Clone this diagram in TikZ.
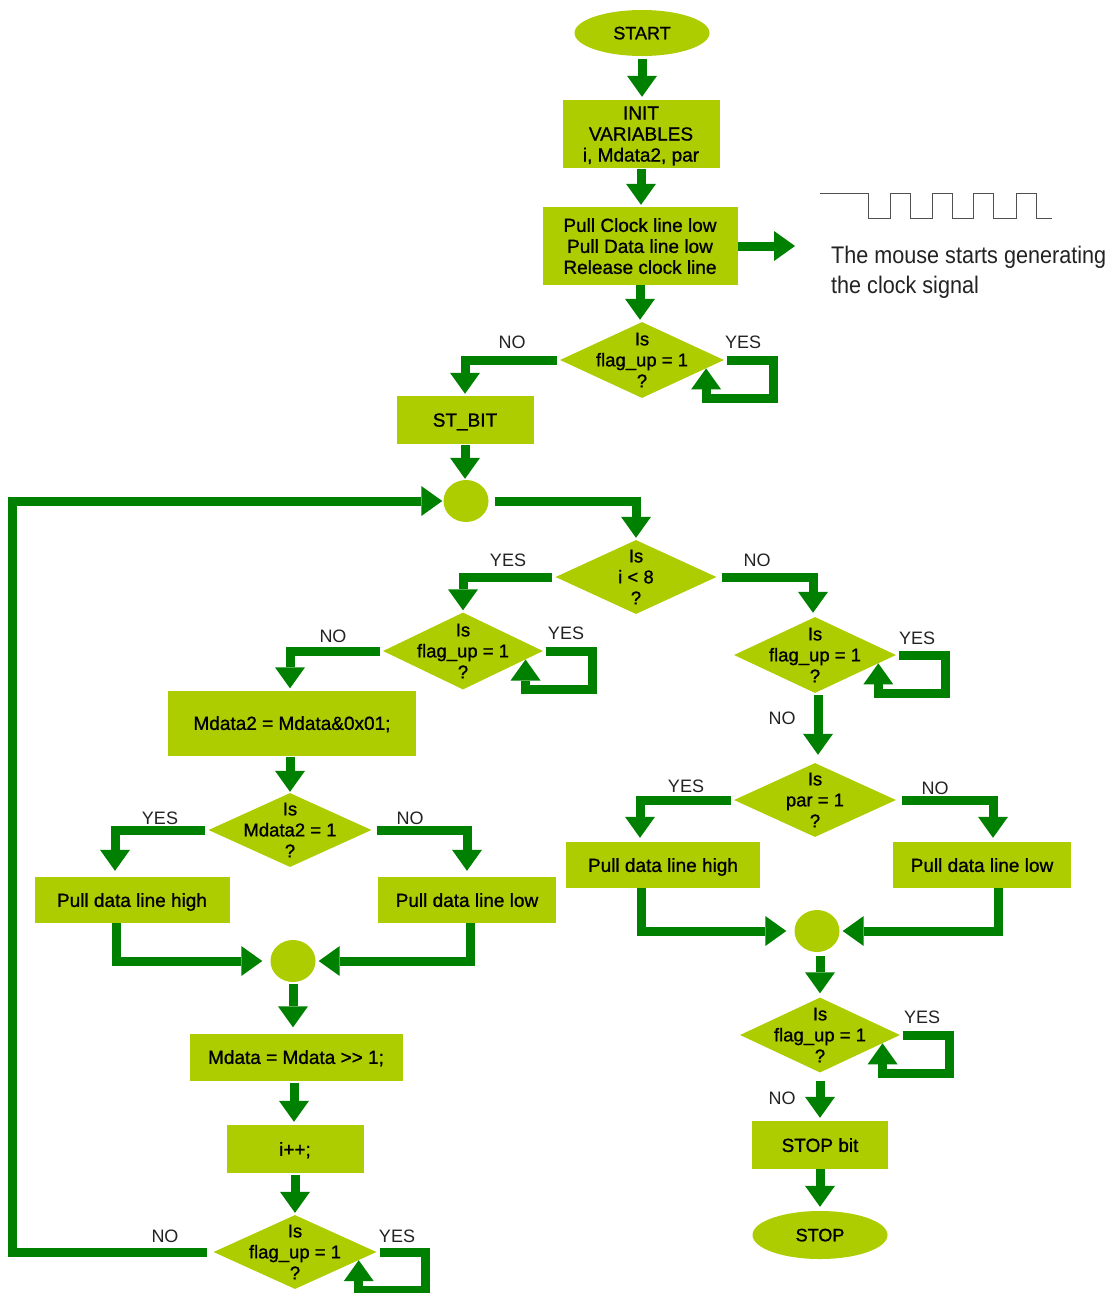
\documentclass[tikz,border=0pt]{standalone}
\usepackage{fontspec}
\setmainfont{Liberation Sans}
\newfontfamily\narrowfont[FakeStretch=0.9]{Liberation Sans}
\newfontfamily\boxfont[FakeBold=1]{Liberation Sans}
\usetikzlibrary{shapes.geometric,arrows.meta,calc}

\definecolor{boxgreen}{RGB}{173,205,0}
\definecolor{flowgreen}{RGB}{0,128,0}
\definecolor{labelgray}{RGB}{35,35,35}
\definecolor{wavegray}{RGB}{80,80,80}

\tikzset{
  stepbox/.style={rectangle, fill=boxgreen, inner sep=0pt, align=center,
    text depth=0pt, font=\boxfont\fontsize{19}{21}\selectfont},
  decide/.style={diamond, fill=boxgreen, inner sep=0pt},
  qtext/.style={align=center, font=\boxfont\fontsize{18.5}{21}\selectfont},
  term/.style={ellipse, fill=boxgreen, inner sep=0pt, text depth=0pt,
    font=\boxfont\fontsize{18}{20}\selectfont},
  joint/.style={ellipse, fill=boxgreen, inner sep=0pt,
    minimum width=45pt, minimum height=42pt},
  flow/.style={draw=flowgreen, line width=9pt,
    -{Triangle[width=30pt,length=21pt,line width=0pt]}},
  answer/.style={text=labelgray, font=\fontsize{18}{20}\selectfont},
}

% wait-for-clock loop on the right of a decision
\newcommand\waitloop[1]{%
  \coordinate (#1-in) at ($(#1.east)!0.22!(#1.south)$);
  \draw[flow] ([xshift=3pt]#1.east) -- ++(46,0) -- ++(0,38) -| (#1-in);
}

\begin{document}
\begin{tikzpicture}[x=1pt,y=-1pt]
\fill[white] (0,0) rectangle (1116,1293);
\useasboundingbox (0,0) rectangle (1116,1293);

% ---- main column ----
\node[term, minimum width=135pt, minimum height=46pt] (start) at (642,33) {START};
\node[stepbox, minimum width=157pt, minimum height=68pt] (init) at (641,134)
  {INIT\\VARIABLES\\i, Mdata2, par};
\node[stepbox, minimum width=195pt, minimum height=78pt] (pull) at (640,246)
  {Pull Clock line low\\Pull Data line low\\Release clock line};
\node[decide, minimum width=164pt, minimum height=76pt,
  label={[qtext]center:Is\\flag\_up = 1\\?}] (d1) at (642,360) {};
\node[stepbox, minimum width=137pt, minimum height=48pt] (stbit) at (465,420) {ST\_BIT};
\node[joint] (j1) at (466,501) {};
\node[decide, minimum width=161pt, minimum height=74pt,
  label={[qtext]center:Is\\i < 8\\?}] (i8) at (636,577) {};

% ---- bit loop (left) ----
\node[decide, minimum width=160pt, minimum height=77pt,
  label={[qtext]center:Is\\flag\_up = 1\\?}] (fl2) at (463,651) {};
\node[stepbox, minimum width=248pt, minimum height=65pt] (md2) at (292,723)
  {Mdata2 = Mdata\&0x01;};
\node[decide, minimum width=163pt, minimum height=74pt,
  label={[qtext]center:Is\\Mdata2 = 1\\?}] (m21) at (290,830) {};
\node[stepbox, minimum width=195pt, minimum height=46pt] (pdh1) at (132,900) {Pull data line high};
\node[stepbox, minimum width=178pt, minimum height=46pt] (pdl1) at (467,900) {Pull data line low};
\node[joint] (j2) at (293,961) {};
\node[stepbox, minimum width=213pt, minimum height=47pt] (shift) at (296,1057)
  {Mdata = Mdata >\kern0pt> 1;};
\node[stepbox, minimum width=137pt, minimum height=48pt] (inc) at (295,1149) {i++;};
\node[decide, minimum width=163pt, minimum height=74pt,
  label={[qtext]center:Is\\flag\_up = 1\\?}] (fl4) at (295,1252) {};

% ---- parity and stop (right) ----
\node[decide, minimum width=162pt, minimum height=76pt,
  label={[qtext]center:Is\\flag\_up = 1\\?}] (fl3) at (815,655) {};
\node[decide, minimum width=162pt, minimum height=74pt,
  label={[qtext]center:Is\\par = 1\\?}] (par) at (815,800) {};
\node[stepbox, minimum width=194pt, minimum height=46pt] (pdh2) at (663,865) {Pull data line high};
\node[stepbox, minimum width=178pt, minimum height=46pt] (pdl2) at (982,865) {Pull data line low};
\node[joint] (j3) at (817,931) {};
\node[decide, minimum width=160pt, minimum height=75pt,
  label={[qtext]center:Is\\flag\_up = 1\\?}] (fl5) at (820,1035) {};
\node[stepbox, minimum width=136pt, minimum height=48pt] (stopbit) at (820,1145) {STOP bit};
\node[term, minimum width=135pt, minimum height=48pt] (stop) at (820,1235) {STOP};

% ---- clock waveform and note ----
\coordinate (wavetip) at (795,243);
\draw[wavegray, line width=1pt] (820,193) -- (868,193) -- (868,218) -- (890,218)
  -- (890,193) -- (910,193) -- (910,218) -- (932,218) -- (932,193) -- (952,193)
  -- (952,218) -- (973,218) -- (973,193) -- (993,193) -- (993,218) -- (1016,218)
  -- (1016,193) -- (1036,193) -- (1036,218) -- (1052,218);
\node[anchor=north west, align=left, text=labelgray, inner sep=0pt,
  font=\narrowfont\fontsize{24}{30}\selectfont] (note) at (831,246)
  {The mouse starts generating\\the clock signal};

% ---- connectors ----
\draw[flow, shorten <=3pt, shorten >=3pt] (start.south) -- (start.south |- init.north);
\draw[flow, shorten <=1pt, shorten >=2pt] (init.south) -- (init.south |- pull.north);
\draw[flow] (pull.east) -- (pull.east -| wavetip);
\draw[flow, shorten >=2pt] (pull.south) -- (pull.south |- d1.north);
\draw[flow, shorten >=2pt] ([xshift=-3pt]d1.west) -| (stbit.north);
\waitloop{d1}
\draw[flow, shorten <=1pt, shorten >=1pt] (stbit.south) -- (stbit.south |- j1.north);
\draw[flow, shorten >=2pt] ([xshift=6pt]j1.east) -| (i8.north);
\draw[flow, shorten >=2pt] ([xshift=-3pt]i8.west) -| (fl2.north);
\draw[flow, shorten >=4pt] ([xshift=5pt]i8.east) -| ([xshift=-2pt]fl3.north);

\waitloop{fl2}
\draw[flow, shorten >=2pt] ([xshift=-3pt]fl2.west) -| ([xshift=-2pt]md2.north);
\draw[flow, shorten <=1pt, shorten >=1pt] ([xshift=-2pt]md2.south) -- ([xshift=-2pt]md2.south |- m21.north);
\draw[flow, shorten >=6pt] ([xshift=-3pt]m21.west) -| ([xshift=-17pt]pdh1.north);
\draw[flow, shorten >=6pt] ([xshift=5pt]m21.east) -| (pdl1.north);
\draw[flow, shorten >=8pt] ([xshift=-16pt]pdh1.south) |- (j2.west);
\draw[flow, shorten >=3pt] ([xshift=3pt]pdl1.south) |- (j2.east);
\draw[flow, shorten <=2pt, shorten >=6pt] (j2.south) -- (j2.south |- shift.north);
\draw[flow, shorten <=2pt, shorten >=3pt] ([xshift=-2pt]shift.south) -- ([xshift=-2pt]shift.south |- inc.north);
\draw[flow, shorten <=2pt, shorten >=2pt] (inc.south) -- (inc.south |- fl4.north);
\waitloop{fl4}
\coordinate (ret) at (12,0);
\draw[flow, shorten >=1pt] ([xshift=-6pt]fl4.west) -- (ret |- fl4.west)
  -- (ret |- j1.west) -- (j1.west);

\waitloop{fl3}
\draw[flow, shorten <=2pt, shorten >=8pt] ([xshift=3pt]fl3.south) -- ([xshift=3pt]fl3.south |- par.north);
\draw[flow, shorten >=4pt] ([xshift=-3pt]par.west) -| ([xshift=-23pt]pdh2.north);
\draw[flow, shorten >=4pt] ([xshift=6pt]par.east) -| ([xshift=11pt]pdl2.north);
\draw[flow, shorten >=8pt] ([xshift=-22pt]pdh2.south) |- (j3.west);
\draw[flow, shorten >=3pt] ([xshift=16pt]pdl2.south) |- (j3.east);
\draw[flow, shorten <=4pt, shorten >=4pt] ([xshift=3pt]j3.south) -- ([xshift=3pt]j3.south |- fl5.north);
\waitloop{fl5}
\draw[flow, shorten <=8pt, shorten >=3pt] (fl5.south) -- (fl5.south |- stopbit.north);
\draw[flow, shorten >=4pt] (stopbit.south) -- (stopbit.south |- stop.north);

% ---- branch labels ----
\node[answer] (n1) at (512,342) {NO};
\node[answer] (y1) at (743,342) {YES};
\node[answer] (y2) at (508,560) {YES};
\node[answer] (n2) at (757,560) {NO};
\node[answer] (n3) at (333,636) {NO};
\node[answer] (y3) at (566,633) {YES};
\node[answer] (y4) at (160,818) {YES};
\node[answer] (n4) at (410,818) {NO};
\node[answer] (n5) at (165,1236) {NO};
\node[answer] (y5) at (397,1236) {YES};
\node[answer] (y6) at (917,638) {YES};
\node[answer] (n6) at (782,718) {NO};
\node[answer] (y7) at (686,786) {YES};
\node[answer] (n7) at (935,788) {NO};
\node[answer] (y8) at (922,1017) {YES};
\node[answer] (n8) at (782,1098) {NO};
\end{tikzpicture}
\end{document}
